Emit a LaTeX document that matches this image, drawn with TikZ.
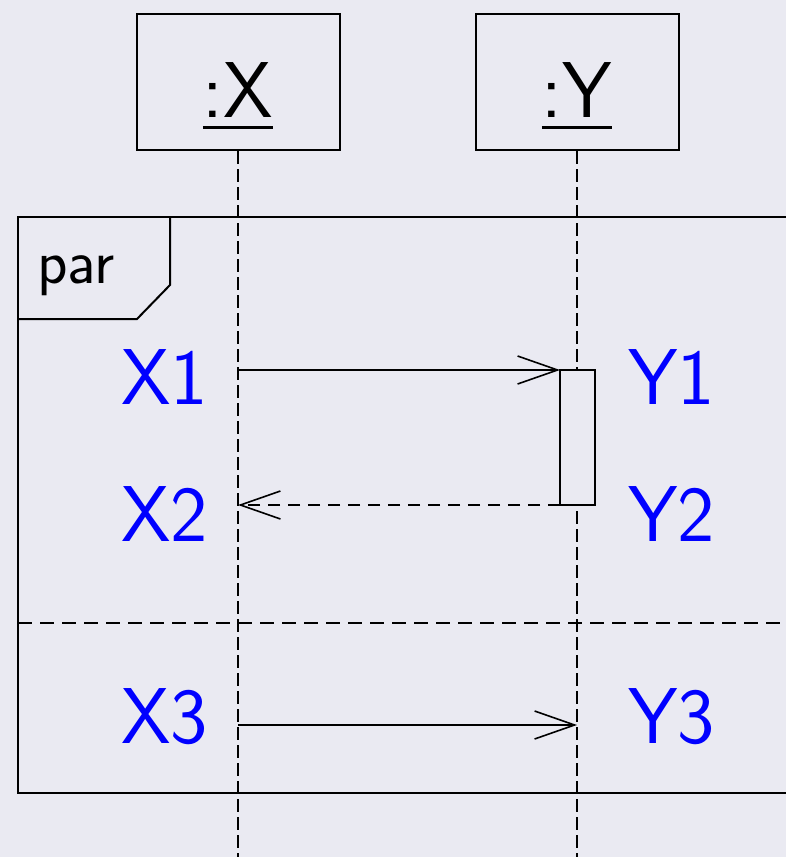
\documentclass[tikz,border=0pt]{standalone}
\usetikzlibrary{arrows.meta}
\definecolor{panelbg}{HTML}{EAEAF2}
\newcommand\objname[1]{\setbox0\hbox{#1}\rlap{\usebox0}\rule[-6pt]{\wd0}{1.5pt}}
\tikzset{
  obj/.style={draw, line width=1pt, minimum width=101.5pt, minimum height=68pt,
    text height=38pt, text depth=3pt,
    font=\fontsize{39.6}{44}\selectfont\sffamily},
  lifeline/.style={line width=0.8pt, dash pattern=on 6.5pt off 2.5pt},
  msg/.style={line width=0.8pt, -{Straight Barb[length=20pt,width=14pt]}},
  reply/.style={msg, dash pattern=on 6pt off 4pt},
  lbl/.style={text=blue, inner sep=0pt, anchor=west,
    font=\fontsize{39.6}{44}\selectfont\sffamily},
}
\begin{document}
\begin{tikzpicture}[x=0.5pt,y=-0.5pt]
        % page
            \fill[panelbg] (0,0) rectangle (786,857);
            \useasboundingbox (0,0) rectangle (786,857);
        % objects
            \node[obj] (X) at (238,82) {\objname{:X}};
            \node[obj] (Y) at (577,82) {\objname{:Y}};
            \coordinate (Xend) at (238,857);
            \coordinate (Yend) at (577,857);
            \draw[lifeline] (X.south) -- (Xend);
            \draw[lifeline] (Y.south) -- (Yend);
        % par frame
            \draw[line width=1pt] (18,217) rectangle (800,793);
            \draw[line width=1pt] (18,319) -- (137,319) -- (170,285) -- (170,217);
            \node[inner sep=0pt, anchor=base west, font=\fontsize{31.5}{36}\selectfont\sffamily]
                (par) at (37,283) {par};
            \draw[line width=0.8pt, dash pattern=on 7pt off 4pt] (18,623) -- (800,623);
        % activation
            \node[draw, fill=panelbg, line width=1pt, minimum width=17.5pt, minimum height=67.5pt,
                inner sep=0pt, outer sep=0pt] (act) at (577.5,437.5) {};
        % messages
            \coordinate (a1) at (238,370);
            \coordinate (a2) at (238,505);
            \coordinate (a3) at (238,725);
            \coordinate (b3) at (577,725);
            \draw[msg] (a1) -- (act.north west);
            \draw[reply] (act.south west) -- (a2);
            \draw[msg] (a3) -- (b3);
        % labels
            \foreach \n/\y in {1/377,2/514,3/717}{
                \node[lbl] (X\n) at (121,\y) {X\n};
                \node[lbl] (Y\n) at (628,\y) {Y\n};
            }
\end{tikzpicture}
\end{document}
